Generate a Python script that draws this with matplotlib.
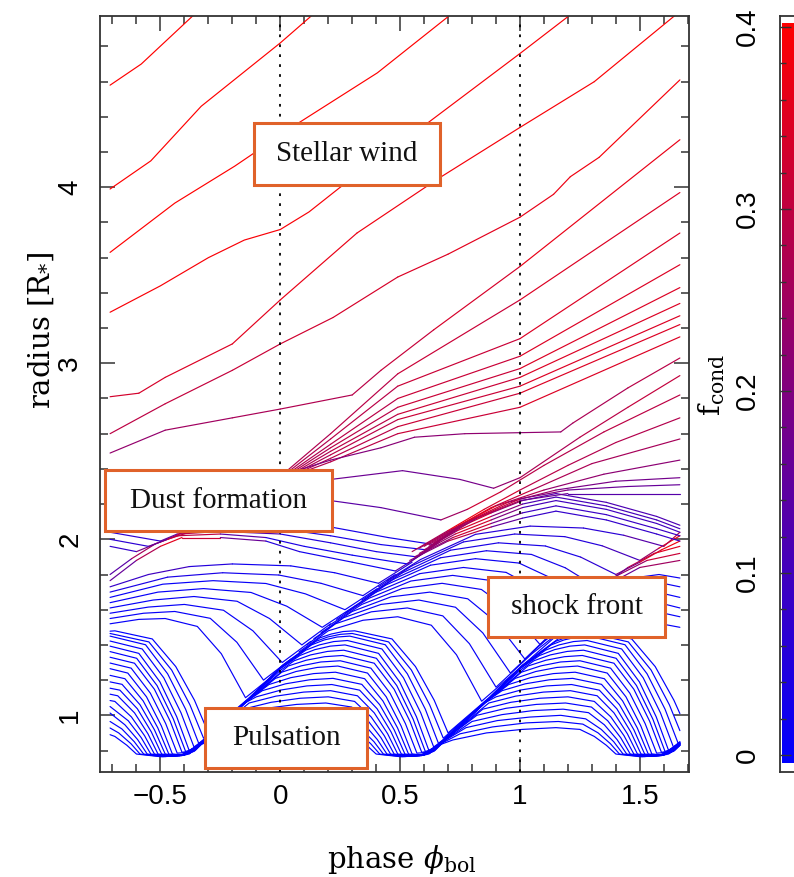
import numpy as np
import matplotlib
matplotlib.use('Agg')
import matplotlib.pyplot as plt
from matplotlib.colors import LinearSegmentedColormap, Normalize
from matplotlib.collections import LineCollection
from matplotlib.patches import Rectangle
from matplotlib.ticker import MultipleLocator, FuncFormatter

plt.rcParams['mathtext.fontset'] = 'dejavuserif'

# ---- data: mass-shell trajectories (phase, radius), colour = f_cond ----
# outer wind shells
wind_lines = [
    ([(-0.71, 4.58), (-0.58, 4.70), (-0.47, 4.84), (-0.36, 4.98)], 0.40),
    ([(-0.71, 3.99), (-0.54, 4.15), (-0.33, 4.46), (-0.11, 4.70), (0.0, 4.82), (0.135, 4.98)], 0.40),
    ([(-0.71, 3.63), (-0.44, 3.91), (-0.19, 4.12), (0.07, 4.36), (0.405, 4.65), (0.71, 4.98)], 0.40),
    ([(-0.71, 3.29), (-0.50, 3.44), (-0.30, 3.60), (-0.15, 3.70), (0.0, 3.76), (0.12, 3.86), (0.25, 4.00),
      (0.60, 4.35), (1.0, 4.76), (1.21, 4.98)], 0.39),
    ([(-0.71, 2.81), (-0.59, 2.83), (-0.48, 2.92), (-0.20, 3.11), (0.0, 3.36), (0.32, 3.74),
      (0.66, 4.05), (1.0, 4.34), (1.31, 4.60), (1.65, 4.98)],
     [0.33, 0.33, 0.34, 0.35, 0.36, 0.37, 0.38, 0.39, 0.39, 0.40]),
    ([(-0.71, 2.60), (-0.48, 2.77), (-0.20, 2.96), (0.0, 3.11), (0.22, 3.26), (0.49, 3.49),
      (0.70, 3.62), (1.0, 3.83), (1.14, 3.96), (1.21, 4.06), (1.33, 4.17), (1.667, 4.61)],
     [0.29, 0.30, 0.31, 0.32, 0.33, 0.34, 0.35, 0.36, 0.37, 0.37, 0.38, 0.39]),
    ([(-0.71, 2.49), (-0.48, 2.62), (-0.20, 2.69), (0.0, 2.74), (0.30, 2.82), (0.42, 2.96),
      (0.64, 3.19), (1.0, 3.55), (1.667, 4.27)],
     [0.22, 0.24, 0.26, 0.27, 0.28, 0.30, 0.32, 0.35, 0.38]),
]

fan_f = [0.26, 0.27, 0.28, 0.30, 0.33, 0.36]
fan_lines = [
    ([(-0.20, 2.25), (0.02, 2.38), (0.21, 2.60), (0.49, 2.94), (1.0, 3.36), (1.667, 3.97)], fan_f),
    ([(-0.20, 2.25), (0.03, 2.38), (0.21, 2.57), (0.49, 2.87), (1.0, 3.14), (1.667, 3.74)], fan_f),
    ([(-0.20, 2.25), (0.04, 2.38), (0.21, 2.54), (0.49, 2.80), (1.0, 3.04), (1.667, 3.56)], fan_f),
    ([(-0.20, 2.25), (0.05, 2.38), (0.21, 2.52), (0.49, 2.75), (1.0, 2.97), (1.667, 3.43)], fan_f),
    ([(-0.20, 2.25), (0.06, 2.38), (0.21, 2.50), (0.49, 2.71), (1.0, 2.92), (1.667, 3.34)], fan_f),
    ([(-0.20, 2.25), (0.07, 2.38), (0.21, 2.48), (0.49, 2.68), (1.0, 2.87), (1.667, 3.27)], fan_f),
    ([(-0.20, 2.25), (0.08, 2.38), (0.21, 2.46), (0.49, 2.64), (1.0, 2.83), (1.667, 3.22)], fan_f),
    ([(-0.20, 2.25), (0.09, 2.38), (0.21, 2.44), (0.49, 2.60), (1.0, 2.75), (1.667, 3.15)], fan_f),
    ([(-0.20, 2.25), (0.02, 2.37), (0.21, 2.45), (0.42, 2.52), (0.56, 2.58), (0.77, 2.60),
      (1.17, 2.61), (1.22, 2.66), (1.45, 2.86), (1.667, 3.03)],
     [0.20, 0.20, 0.20, 0.21, 0.22, 0.22, 0.23, 0.26, 0.28, 0.30]),
]

# shells pushed outward by the shock near r ~ 2.1-2.4
kicked_lines = [
    ([(-0.30, 2.15), (0.0, 2.28), (0.21, 2.34), (0.51, 2.39), (0.75, 2.34), (0.89, 2.29),
      (1.0, 2.35), (1.25, 2.58), (1.45, 2.75), (1.667, 2.93)],
     [0.17, 0.17, 0.17, 0.17, 0.17, 0.20, 0.26, 0.28, 0.30, 0.31]),
    ([(-0.30, 2.05), (0.0, 2.17), (0.21, 2.22), (0.42, 2.18), (0.67, 2.11), (0.78, 2.17),
      (0.92, 2.27), (1.1, 2.42), (1.35, 2.61), (1.667, 2.82)],
     [0.14, 0.14, 0.14, 0.14, 0.16, 0.34, 0.30, 0.28, 0.29, 0.30]),
    ([(0.55, 1.93), (0.70, 2.05), (0.85, 2.17), (1.0, 2.28), (1.2, 2.42), (1.4, 2.55), (1.667, 2.69)],
     [0.15, 0.38, 0.36, 0.30, 0.28, 0.28, 0.28]),
    ([(0.58, 1.95), (0.72, 2.06), (0.88, 2.18), (1.05, 2.28), (1.3, 2.43), (1.667, 2.57)],
     [0.15, 0.38, 0.34, 0.28, 0.26, 0.26]),
    ([(0.60, 1.96), (0.75, 2.08), (0.90, 2.19), (1.1, 2.28), (1.35, 2.37), (1.667, 2.45)],
     [0.15, 0.38, 0.32, 0.24, 0.22, 0.22]),
    ([(0.62, 1.97), (0.78, 2.10), (0.95, 2.21), (1.15, 2.28), (1.4, 2.33), (1.667, 2.35)],
     [0.14, 0.37, 0.28, 0.20, 0.18, 0.18]),
    ([(0.64, 1.98), (0.80, 2.11), (1.0, 2.23), (1.2, 2.28), (1.45, 2.30), (1.667, 2.31)],
     [0.14, 0.36, 0.24, 0.17, 0.16, 0.16]),
    ([(0.66, 1.99), (0.82, 2.12), (1.0, 2.22), (1.2, 2.26), (1.667, 2.26)],
     [0.13, 0.35, 0.20, 0.14, 0.13]),
]

cluster_lines = [
    ([(0.62, 1.96), (0.75, 2.07), (0.88, 2.15), (1.01, 2.22), (1.15, 2.26), (1.36, 2.21), (1.57, 2.13), (1.667, 2.08)],
     [0.15, 0.36, 0.30, 0.14, 0.12, 0.12, 0.12, 0.12]),
    ([(0.60, 1.94), (0.74, 2.05), (0.88, 2.13), (1.01, 2.20), (1.15, 2.24), (1.36, 2.19), (1.57, 2.11), (1.667, 2.06)],
     [0.12, 0.37, 0.30, 0.13, 0.11, 0.11, 0.11, 0.11]),
    ([(0.58, 1.92), (0.73, 2.03), (0.88, 2.11), (1.01, 2.18), (1.15, 2.22), (1.36, 2.17), (1.57, 2.09), (1.667, 2.04)],
     [0.10, 0.38, 0.28, 0.12, 0.10, 0.10, 0.10, 0.10]),
    ([(0.56, 1.90), (0.72, 2.01), (0.88, 2.09), (1.01, 2.15), (1.15, 2.19), (1.36, 2.14), (1.57, 2.06), (1.667, 2.02)],
     [0.08, 0.38, 0.26, 0.10, 0.09, 0.09, 0.09, 0.09]),
    ([(0.54, 1.88), (0.70, 1.99), (0.88, 2.07), (1.01, 2.12), (1.15, 2.16), (1.36, 2.11), (1.57, 2.03), (1.667, 1.99)],
     [0.06, 0.36, 0.22, 0.09, 0.08, 0.08, 0.08, 0.08]),
]

# intermediate shells, left part of the plot (falling onto the shock near phase 0)
upper_left_arcs = [
    ([(-0.71, 1.52), (-0.59, 1.545), (-0.48, 1.55), (-0.346, 1.505), (-0.246, 1.35), (-0.145, 1.10),
      (-0.035, 1.22)], 0.01),
    ([(-0.71, 1.55), (-0.57, 1.58), (-0.44, 1.59), (-0.292, 1.551), (-0.181, 1.415), (-0.07, 1.20),
      (0.045, 1.32)], 0.01),
    ([(-0.71, 1.58), (-0.55, 1.615), (-0.40, 1.63), (-0.237, 1.597), (-0.114, 1.48), (0.008, 1.30),
      (0.127, 1.42)], 0.01),
    ([(-0.71, 1.61), (-0.53, 1.655), (-0.36, 1.675), (-0.18, 1.648), (-0.045, 1.55), (0.09, 1.40),
      (0.21, 1.52)], 0.01),
    ([(-0.71, 1.64), (-0.51, 1.70), (-0.32, 1.72), (-0.122, 1.698), (0.027, 1.62), (0.175, 1.50),
      (0.31, 1.62)], 0.01),
    ([(-0.71, 1.67), (-0.49, 1.745), (-0.28, 1.765), (-0.06, 1.749), (0.105, 1.69), (0.27, 1.60),
      (0.405, 1.72)], 0.01),
    ([(-0.71, 1.70), (-0.47, 1.785), (-0.24, 1.81), (-0.006, 1.797), (0.17, 1.75), (0.345, 1.68),
      (0.48, 1.80)],
     [0.03, 0.05, 0.03, 0.02, 0.02, 0.02, 0.03]),
    ([(-0.71, 1.73), (-0.55, 1.80), (-0.38, 1.845), (-0.2, 1.86), (0.044, 1.849), (0.227, 1.81), (0.41, 1.75),
      (0.55, 1.87)],
     [0.05, 0.12, 0.08, 0.03, 0.02, 0.02, 0.02, 0.08]),
    ([(-0.71, 1.765), (-0.6, 1.88), (-0.5, 1.96), (-0.41, 2.01), (-0.25, 2.01), (-0.06, 1.99), (0.08, 1.93),
      (0.30, 1.87), (0.48, 1.82), (0.62, 1.94)],
     [0.10, 0.22, 0.33, 0.38, 0.25, 0.08, 0.03, 0.02, 0.02, 0.25]),
    ([(-0.71, 1.80), (-0.62, 1.89), (-0.52, 1.975), (-0.43, 2.02), (-0.25, 2.03), (-0.06, 2.01), (0.10, 1.96),
      (0.30, 1.91), (0.53, 1.86), (0.66, 1.98)],
     [0.08, 0.20, 0.32, 0.37, 0.22, 0.06, 0.03, 0.02, 0.02, 0.30]),
    ([(-0.71, 1.96), (-0.60, 1.93), (-0.50, 1.985), (-0.42, 2.03), (-0.25, 2.045), (0.0, 2.03), (0.21, 1.98),
      (0.40, 1.93), (0.57, 1.90), (0.695, 2.02)],
     [0.06, 0.10, 0.28, 0.36, 0.20, 0.06, 0.04, 0.03, 0.03, 0.35]),
    ([(-0.71, 2.00), (-0.55, 1.96), (-0.47, 2.00), (-0.38, 2.04), (0.0, 2.06), (0.21, 2.02), (0.42, 1.97),
      (0.61, 1.94), (0.73, 2.06)],
     [0.06, 0.08, 0.25, 0.33, 0.06, 0.04, 0.03, 0.03, 0.37]),
    ([(-0.71, 2.04), (-0.50, 1.99), (-0.43, 2.03), (-0.30, 2.06), (0.0, 2.10), (0.21, 2.07), (0.45, 2.01),
      (0.64, 1.97), (0.765, 2.09)],
     [0.06, 0.08, 0.22, 0.30, 0.06, 0.04, 0.03, 0.03, 0.38]),
]

# intermediate shells, right part (between the two shocks, then the second shock)
upper_right_arcs = [
    ([(0.078, 1.36), (0.20, 1.48), (0.345, 1.54), (0.49, 1.56), (0.63, 1.512), (0.735, 1.344), (0.84, 1.08),
      (1.0, 1.27), (1.15, 1.45), (1.30, 1.52), (1.47, 1.55), (1.667, 1.50)], 0.01),
    ([(0.11, 1.40), (0.23, 1.52), (0.38, 1.588), (0.53, 1.61), (0.678, 1.565), (0.789, 1.407), (0.90, 1.16),
      (1.05, 1.35), (1.19, 1.50), (1.33, 1.58), (1.50, 1.61), (1.667, 1.56)], 0.01),
    ([(0.14, 1.435), (0.265, 1.555), (0.42, 1.63), (0.578, 1.655), (0.731, 1.614), (0.845, 1.468), (0.96, 1.24),
      (1.10, 1.42), (1.23, 1.55), (1.37, 1.63), (1.52, 1.66), (1.667, 1.61)], 0.01),
    ([(0.17, 1.47), (0.30, 1.59), (0.462, 1.673), (0.624, 1.70), (0.782, 1.662), (0.901, 1.529), (1.02, 1.32),
      (1.15, 1.49), (1.27, 1.60), (1.40, 1.68), (1.54, 1.71), (1.667, 1.67)], 0.01),
    ([(0.203, 1.51), (0.34, 1.63), (0.508, 1.72), (0.675, 1.75), (0.839, 1.715), (0.962, 1.593), (1.085, 1.40),
      (1.20, 1.55), (1.315, 1.66), (1.44, 1.73), (1.56, 1.76), (1.667, 1.73)], 0.02),
    ([(0.235, 1.545), (0.37, 1.665), (0.545, 1.763), (0.719, 1.795), (0.89, 1.764), (1.018, 1.653),
      (1.146, 1.48), (1.26, 1.62), (1.36, 1.72), (1.47, 1.78), (1.58, 1.80), (1.667, 1.78)], 0.02),
    ([(0.27, 1.58), (0.40, 1.70), (0.582, 1.805), (0.764, 1.84), (0.942, 1.812), (1.075, 1.714), (1.208, 1.56),
      (1.35, 1.73), (1.50, 1.84), (1.667, 1.88)],
     [0.02, 0.02, 0.02, 0.02, 0.02, 0.02, 0.03, 0.12, 0.22, 0.28]),
    ([(0.31, 1.62), (0.44, 1.74), (0.627, 1.853), (0.814, 1.89), (0.996, 1.865), (1.133, 1.778), (1.27, 1.64),
      (1.40, 1.79), (1.53, 1.88), (1.667, 1.92)],
     [0.02, 0.02, 0.02, 0.02, 0.02, 0.02, 0.04, 0.18, 0.30, 0.33]),
    ([(0.34, 1.655), (0.475, 1.775), (0.668, 1.895), (0.86, 1.935), (1.048, 1.914), (1.189, 1.838), (1.33, 1.72),
      (1.45, 1.84), (1.56, 1.92), (1.667, 1.96)],
     [0.02, 0.02, 0.03, 0.03, 0.03, 0.03, 0.06, 0.25, 0.34, 0.36]),
    ([(0.375, 1.69), (0.51, 1.81), (0.71, 1.938), (0.91, 1.98), (1.106, 1.962), (1.253, 1.899), (1.40, 1.80),
      (1.50, 1.87), (1.59, 1.94), (1.667, 1.99)],
     [0.03, 0.03, 0.04, 0.04, 0.04, 0.04, 0.10, 0.30, 0.37, 0.39]),
    ([(0.41, 1.73), (0.55, 1.85), (0.764, 1.985), (0.978, 2.03), (1.187, 2.015), (1.343, 1.963), (1.50, 1.88),
      (1.58, 1.95), (1.667, 2.02)],
     [0.04, 0.04, 0.05, 0.05, 0.05, 0.06, 0.15, 0.34, 0.40]),
    ([(0.445, 1.765), (0.585, 1.885), (0.814, 2.028), (1.042, 2.075), (1.265, 2.064), (1.433, 2.023),
      (1.60, 1.96), (1.667, 2.04)],
     [0.05, 0.05, 0.06, 0.06, 0.06, 0.07, 0.20, 0.38]),
]

# innermost shells: pulsation arcs falling back to ~0.78 R*
inner_shells = [
    [(-0.71, 0.89), (-0.69, 0.88), (-0.64, 0.83), (-0.60, 0.78), (-0.50, 0.765), (-0.42, 0.77), (-0.34, 0.83),
     (-0.28, 0.86), (-0.14, 0.90), (0.01, 0.92), (0.15, 0.93), (0.25, 0.92), (0.31, 0.88), (0.36, 0.83),
     (0.40, 0.78), (0.50, 0.765), (0.58, 0.77), (0.66, 0.83), (0.72, 0.86), (0.86, 0.90), (1.01, 0.92),
     (1.15, 0.93), (1.25, 0.92), (1.31, 0.88), (1.36, 0.83), (1.40, 0.78), (1.50, 0.765), (1.58, 0.77),
     (1.667, 0.84)],
    [(-0.71, 0.928), (-0.674, 0.90), (-0.623, 0.839), (-0.585, 0.78), (-0.49, 0.765), (-0.41, 0.771),
     (-0.34, 0.832), (-0.25, 0.895), (-0.115, 0.934), (0.025, 0.957), (0.16, 0.965), (0.262, 0.95),
     (0.326, 0.90), (0.377, 0.839), (0.415, 0.78), (0.51, 0.765), (0.59, 0.771), (0.66, 0.832), (0.75, 0.895),
     (0.885, 0.934), (1.025, 0.957), (1.16, 0.965), (1.262, 0.95), (1.326, 0.90), (1.377, 0.839),
     (1.415, 0.78), (1.51, 0.765), (1.59, 0.771), (1.667, 0.842)],
    [(-0.71, 0.965), (-0.661, 0.923), (-0.609, 0.85), (-0.57, 0.78), (-0.48, 0.766), (-0.41, 0.772),
     (-0.34, 0.835), (-0.225, 0.93), (-0.095, 0.97), (0.04, 0.99), (0.17, 1.0), (0.274, 0.98), (0.339, 0.92),
     (0.391, 0.85), (0.43, 0.78), (0.52, 0.766), (0.59, 0.772), (0.66, 0.835), (0.775, 0.93), (0.905, 0.97),
     (1.04, 0.99), (1.17, 1.0), (1.274, 0.98), (1.339, 0.92), (1.391, 0.85), (1.43, 0.78), (1.52, 0.766),
     (1.59, 0.772), (1.667, 0.845)],
    [(-0.71, 1.013), (-0.648, 0.946), (-0.595, 0.862), (-0.555, 0.78), (-0.47, 0.767), (-0.40, 0.773),
     (-0.335, 0.838), (-0.20, 0.965), (-0.075, 1.004), (0.055, 1.027), (0.18, 1.035), (0.286, 1.015),
     (0.352, 0.946), (0.405, 0.862), (0.445, 0.78), (0.53, 0.767), (0.60, 0.773), (0.665, 0.838),
     (0.80, 0.965), (0.925, 1.004), (1.055, 1.027), (1.18, 1.035), (1.286, 1.015), (1.352, 0.946),
     (1.405, 0.862), (1.445, 0.78), (1.53, 0.767), (1.60, 0.773), (1.667, 0.848)],
    [(-0.71, 1.05), (-0.634, 0.969), (-0.58, 0.873), (-0.54, 0.78), (-0.46, 0.768), (-0.40, 0.775),
     (-0.335, 0.84), (-0.18, 1.0), (-0.058, 1.04), (0.068, 1.062), (0.19, 1.07), (0.298, 1.047), (0.366, 0.969),
     (0.42, 0.873), (0.46, 0.78), (0.54, 0.768), (0.60, 0.775), (0.665, 0.84), (0.82, 1.0), (0.942, 1.04),
     (1.068, 1.062), (1.19, 1.07), (1.298, 1.047), (1.366, 0.969), (1.42, 0.873), (1.46, 0.78), (1.54, 0.768),
     (1.60, 0.775), (1.667, 0.85)],
    [(-0.71, 1.084), (-0.69, 1.079), (-0.621, 0.991), (-0.566, 0.884), (-0.525, 0.78), (-0.45, 0.769),
     (-0.39, 0.777), (-0.33, 0.842), (-0.155, 1.035), (-0.038, 1.074), (0.083, 1.097), (0.20, 1.105),
     (0.31, 1.079), (0.379, 0.991), (0.434, 0.884), (0.475, 0.78), (0.55, 0.769), (0.61, 0.777), (0.67, 0.842),
     (0.845, 1.035), (0.962, 1.074), (1.083, 1.097), (1.20, 1.105), (1.31, 1.079), (1.379, 0.991),
     (1.434, 0.884), (1.475, 0.78), (1.55, 0.769), (1.61, 0.777), (1.667, 0.84)],
    [(-0.71, 1.12), (-0.678, 1.111), (-0.608, 1.014), (-0.552, 0.895), (-0.51, 0.78), (-0.44, 0.77),
     (-0.38, 0.78), (-0.33, 0.845), (-0.13, 1.07), (-0.018, 1.109), (0.098, 1.132), (0.21, 1.14),
     (0.322, 1.111), (0.392, 1.014), (0.448, 0.895), (0.49, 0.78), (0.56, 0.77), (0.62, 0.78), (0.67, 0.845),
     (0.87, 1.07), (0.982, 1.109), (1.098, 1.132), (1.21, 1.14), (1.322, 1.111), (1.392, 1.014),
     (1.448, 0.895), (1.49, 0.78), (1.56, 0.77), (1.62, 0.78), (1.667, 0.835)],
    [(-0.71, 1.154), (-0.669, 1.143), (-0.596, 1.037), (-0.538, 0.906), (-0.495, 0.78), (-0.43, 0.771),
     (-0.375, 0.785), (-0.325, 0.848), (-0.145, 1.072), (-0.10, 1.105), (0.004, 1.144), (0.111, 1.167),
     (0.215, 1.175), (0.331, 1.143), (0.404, 1.037), (0.462, 0.906), (0.505, 0.78), (0.57, 0.771),
     (0.625, 0.785), (0.675, 0.848), (0.855, 1.072), (0.90, 1.105), (1.004, 1.144), (1.111, 1.167),
     (1.215, 1.175), (1.331, 1.143), (1.404, 1.037), (1.462, 0.906), (1.505, 0.78), (1.57, 0.771),
     (1.625, 0.785), (1.667, 0.835)],
    [(-0.71, 1.19), (-0.66, 1.176), (-0.585, 1.06), (-0.525, 0.918), (-0.48, 0.78), (-0.42, 0.772),
     (-0.37, 0.79), (-0.32, 0.85), (-0.15, 1.07), (-0.075, 1.14), (0.022, 1.179), (0.123, 1.202), (0.22, 1.21),
     (0.34, 1.176), (0.415, 1.06), (0.475, 0.918), (0.52, 0.78), (0.58, 0.772), (0.63, 0.79), (0.68, 0.85),
     (0.85, 1.07), (0.925, 1.14), (1.022, 1.179), (1.123, 1.202), (1.22, 1.21), (1.34, 1.176), (1.415, 1.06),
     (1.475, 0.918), (1.52, 0.78), (1.58, 0.772), (1.63, 0.79), (1.667, 0.83)],
    [(-0.71, 1.227), (-0.648, 1.208), (-0.572, 1.082), (-0.511, 0.929), (-0.465, 0.78), (-0.41, 0.774),
     (-0.36, 0.795), (-0.315, 0.855), (-0.145, 1.075), (-0.047, 1.175), (0.044, 1.214), (0.139, 1.237),
     (0.23, 1.245), (0.352, 1.208), (0.428, 1.082), (0.489, 0.929), (0.535, 0.78), (0.59, 0.774),
     (0.64, 0.795), (0.685, 0.855), (0.855, 1.075), (0.953, 1.175), (1.044, 1.214), (1.139, 1.237),
     (1.23, 1.245), (1.352, 1.208), (1.428, 1.082), (1.489, 0.929), (1.535, 0.78), (1.59, 0.774),
     (1.64, 0.795), (1.667, 0.83)],
    [(-0.71, 1.265), (-0.636, 1.24), (-0.558, 1.105), (-0.496, 0.94), (-0.45, 0.78), (-0.40, 0.775),
     (-0.355, 0.80), (-0.31, 0.86), (-0.145, 1.075), (-0.02, 1.21), (0.066, 1.249), (0.154, 1.272),
     (0.24, 1.28), (0.364, 1.24), (0.442, 1.105), (0.504, 0.94), (0.55, 0.78), (0.60, 0.775), (0.645, 0.80),
     (0.69, 0.86), (0.855, 1.075), (0.98, 1.21), (1.066, 1.249), (1.154, 1.272), (1.24, 1.28), (1.364, 1.24),
     (1.442, 1.105), (1.504, 0.94), (1.55, 0.78), (1.60, 0.775), (1.645, 0.80), (1.667, 0.83)],
    [(-0.71, 1.297), (-0.622, 1.268), (-0.542, 1.126), (-0.478, 0.953), (-0.43, 0.785), (-0.38, 0.79),
     (-0.335, 0.83), (-0.14, 1.078), (0.006, 1.245), (0.087, 1.281), (0.169, 1.303), (0.25, 1.31),
     (0.378, 1.268), (0.458, 1.126), (0.522, 0.953), (0.57, 0.785), (0.62, 0.79), (0.665, 0.83), (0.86, 1.078),
     (1.006, 1.245), (1.087, 1.281), (1.169, 1.303), (1.25, 1.31), (1.378, 1.268), (1.458, 1.126),
     (1.522, 0.953), (1.57, 0.785), (1.62, 0.79), (1.667, 0.835)],
    [(-0.71, 1.33), (-0.608, 1.296), (-0.525, 1.148), (-0.459, 0.966), (-0.41, 0.79), (-0.36, 0.80),
     (-0.315, 0.865), (-0.14, 1.08), (0.033, 1.28), (0.108, 1.313), (0.185, 1.333), (0.26, 1.34),
     (0.392, 1.296), (0.475, 1.148), (0.541, 0.966), (0.59, 0.79), (0.64, 0.80), (0.685, 0.865), (0.86, 1.08),
     (1.033, 1.28), (1.108, 1.313), (1.185, 1.333), (1.26, 1.34), (1.392, 1.296), (1.475, 1.148),
     (1.541, 0.966), (1.59, 0.79), (1.64, 0.80), (1.667, 0.835)],
    [(-0.71, 1.362), (-0.599, 1.324), (-0.514, 1.169), (-0.446, 0.979), (-0.395, 0.795), (-0.35, 0.81),
     (-0.31, 0.87), (-0.137, 1.083), (0.0, 1.255), (0.058, 1.31), (0.126, 1.343), (0.197, 1.363),
     (0.265, 1.37), (0.401, 1.324), (0.486, 1.169), (0.554, 0.979), (0.605, 0.795), (0.65, 0.81), (0.69, 0.87),
     (0.863, 1.083), (1.0, 1.255), (1.058, 1.31), (1.126, 1.343), (1.197, 1.363), (1.265, 1.37),
     (1.401, 1.324), (1.486, 1.169), (1.554, 0.979), (1.605, 0.795), (1.65, 0.81), (1.667, 0.83)],
    [(-0.71, 1.393), (-0.59, 1.352), (-0.502, 1.19), (-0.432, 0.992), (-0.38, 0.80), (-0.34, 0.83),
     (-0.30, 0.875), (-0.135, 1.085), (0.0, 1.265), (0.082, 1.34), (0.144, 1.373), (0.208, 1.393), (0.27, 1.40),
     (0.41, 1.352), (0.498, 1.19), (0.568, 0.992), (0.62, 0.80), (0.66, 0.83), (0.70, 0.875), (0.865, 1.085),
     (1.0, 1.265), (1.082, 1.34), (1.144, 1.373), (1.208, 1.393), (1.27, 1.40), (1.41, 1.352), (1.498, 1.19),
     (1.568, 0.992), (1.62, 0.80), (1.66, 0.83), (1.667, 0.84)],
    [(-0.71, 1.422), (-0.576, 1.377), (-0.486, 1.213), (-0.414, 1.014), (-0.36, 0.82), (-0.32, 0.86),
     (-0.132, 1.09), (0.003, 1.27), (0.106, 1.37), (0.163, 1.40), (0.223, 1.419), (0.28, 1.425),
     (0.424, 1.377), (0.514, 1.213), (0.586, 1.014), (0.64, 0.82), (0.68, 0.86), (0.868, 1.09), (1.003, 1.27),
     (1.106, 1.37), (1.163, 1.40), (1.223, 1.419), (1.28, 1.425), (1.424, 1.377), (1.514, 1.213),
     (1.586, 1.014), (1.64, 0.82), (1.667, 0.84)],
    [(-0.71, 1.45), (-0.562, 1.401), (-0.47, 1.236), (-0.395, 1.035), (-0.34, 0.84), (-0.30, 0.885),
     (-0.13, 1.095), (0.005, 1.275), (0.13, 1.40), (0.183, 1.428), (0.237, 1.445), (0.29, 1.45), (0.438, 1.401),
     (0.53, 1.236), (0.605, 1.035), (0.66, 0.84), (0.70, 0.885), (0.87, 1.095), (1.005, 1.275), (1.13, 1.40),
     (1.183, 1.428), (1.237, 1.445), (1.29, 1.45), (1.438, 1.401), (1.53, 1.236), (1.605, 1.035), (1.66, 0.84),
     (1.667, 0.845)],
    [(-0.71, 1.465), (-0.548, 1.417), (-0.453, 1.257), (-0.377, 1.06), (-0.32, 0.87), (-0.128, 1.10),
     (0.007, 1.28), (0.148, 1.42), (0.198, 1.445), (0.25, 1.46), (0.30, 1.465), (0.452, 1.417), (0.547, 1.257),
     (0.623, 1.06), (0.68, 0.87), (0.872, 1.10), (1.007, 1.28), (1.148, 1.42), (1.198, 1.445), (1.25, 1.46),
     (1.30, 1.465), (1.452, 1.417), (1.547, 1.257), (1.623, 1.06), (1.667, 0.913)],
    [(-0.71, 1.478), (-0.69, 1.48), (-0.534, 1.434), (-0.436, 1.277), (-0.358, 1.086), (-0.30, 0.90),
     (-0.125, 1.105), (0.01, 1.285), (0.165, 1.44), (0.213, 1.462), (0.262, 1.476), (0.31, 1.48),
     (0.466, 1.434), (0.564, 1.277), (0.642, 1.086), (0.70, 0.90), (0.875, 1.105), (1.01, 1.285), (1.165, 1.44),
     (1.213, 1.462), (1.262, 1.476), (1.31, 1.48), (1.466, 1.434), (1.564, 1.277), (1.642, 1.086),
     (1.667, 1.01)],
]
inner_fcond = 0.0

# annotation boxes: text, (x0, x1, y0, y1) in data units
labels = [
    ('Stellar wind', (-0.110, 0.668, 4.011, 4.364)),
    ('Dust formation', (-0.733, 0.215, 2.045, 2.392)),
    ('shock front', (0.868, 1.604, 1.443, 1.784)),
    ('Pulsation', (-0.313, 0.361, 0.700, 1.040)),
]
cbar_ticks = [0.0, 0.1, 0.2, 0.3, 0.4]

# ---- figure ----
cmap = LinearSegmentedColormap.from_list('fcond', ['#0000ff', '#ff0000'])
norm = Normalize(0.0, 0.4)
LW = 0.85

fig = plt.figure(figsize=(7.94, 8.77), dpi=100)
ax = fig.add_axes([100 / 794, 105 / 877, 589 / 794, 756 / 877])


def draw(lines, z):
    for pts, f in lines:
        xy = np.array(pts)
        if np.isscalar(f):
            ax.plot(xy[:, 0], xy[:, 1], color=cmap(norm(f)), lw=LW, zorder=z,
                    solid_joinstyle='round', solid_capstyle='round')
        else:
            f = np.asarray(f)
            segs = np.stack([xy[:-1], xy[1:]], axis=1)
            lc = LineCollection(segs, colors=cmap(norm(0.5 * (f[:-1] + f[1:]))),
                                linewidths=LW, zorder=z, capstyle='round', joinstyle='round')
            ax.add_collection(lc)


draw([(s, inner_fcond) for s in inner_shells], 2.0)
draw(upper_left_arcs, 2.1)
draw(upper_right_arcs, 2.1)
draw(cluster_lines, 2.2)
draw(kicked_lines, 2.3)
draw(fan_lines, 2.3)
draw(wind_lines, 2.4)

for xv in (0.0, 1.0):
    ax.axvline(xv, color='black', lw=1.3, ls=(0, (1.5, 4)), zorder=3)

for text, (x0, x1, y0, y1) in labels:
    ax.add_patch(Rectangle((x0, y0), x1 - x0, y1 - y0, facecolor='white',
                           edgecolor='#e0622a', lw=2.2, zorder=5))
    ax.text(0.5 * (x0 + x1), 0.5 * (y0 + y1), text, ha='center', va='center',
            fontsize=21, family='Liberation Serif', color='#111111', zorder=6)

ax.set_xlim(-0.752, 1.705)
ax.set_ylim(0.678, 4.973)
ax.xaxis.set_major_locator(MultipleLocator(0.5))
ax.xaxis.set_minor_locator(MultipleLocator(0.1))
ax.yaxis.set_major_locator(MultipleLocator(1.0))
ax.yaxis.set_minor_locator(MultipleLocator(0.2))
fmt = FuncFormatter(lambda v, p: f'{v:g}'.replace('-', '\u2212'))
ax.xaxis.set_major_formatter(fmt)
ax.yaxis.set_major_formatter(fmt)
ax.tick_params(which='both', direction='in', top=True, right=True, color='#333333', width=1.1)
ax.tick_params(which='major', length=10.5)
ax.tick_params(which='minor', length=5.5)
ax.tick_params(axis='x', labelsize=20, pad=9, labelfontfamily='Liberation Sans')
ax.tick_params(axis='y', labelsize=20, pad=12, labelrotation=90, labelfontfamily='Liberation Sans')
for lab in ax.get_yticklabels():
    lab.set_va('center')
for sp in ax.spines.values():
    sp.set_linewidth(1.3)
    sp.set_color('#333333')

fig.text(402 / 794, 1 - 868 / 877, r'phase $\phi_{\rm bol}$', ha='center', va='baseline',
         fontsize=21, family='DejaVu Serif')
fig.text(41 / 794, 1 - 330 / 877, r'radius [R$_{*}$]', ha='center', va='center', rotation=90,
         fontsize=21, family='DejaVu Serif')
fig.text(712 / 794, 1 - 385 / 877, r'f$_{\rm cond}$', ha='center', va='center', rotation=90,
         fontsize=21, family='DejaVu Serif')

# colour bar (only its left edge is inside the figure)
cax = fig.add_axes([780 / 794, 105 / 877, 40 / 794, 756 / 877])
cax.set_xlim(0, 1)
cax.set_ylim(-0.0093, 0.406)
grad = np.linspace(0.0, 0.4, 256).reshape(-1, 1)
cax.imshow(grad, aspect='auto', cmap=cmap, norm=norm, origin='lower',
           extent=[0.05, 1.0, -0.0044, 0.402], zorder=1)
cax.set_yticks(cbar_ticks)
cax.yaxis.set_minor_locator(MultipleLocator(0.02))
cax.yaxis.set_major_formatter(fmt)
cax.set_xticks([])
cax.tick_params(axis='y', which='both', direction='in', left=True, right=False, color='#333333', width=1.0)
cax.tick_params(axis='y', which='major', length=8, labelsize=20, pad=14, labelrotation=90,
                labelfontfamily='Liberation Sans')
cax.tick_params(axis='y', which='minor', length=4)
for lab in cax.get_yticklabels():
    lab.set_va('center')
for sp in cax.spines.values():
    sp.set_linewidth(1.3)
    sp.set_color('#333333')

fig.savefig('out.png', dpi=100)
